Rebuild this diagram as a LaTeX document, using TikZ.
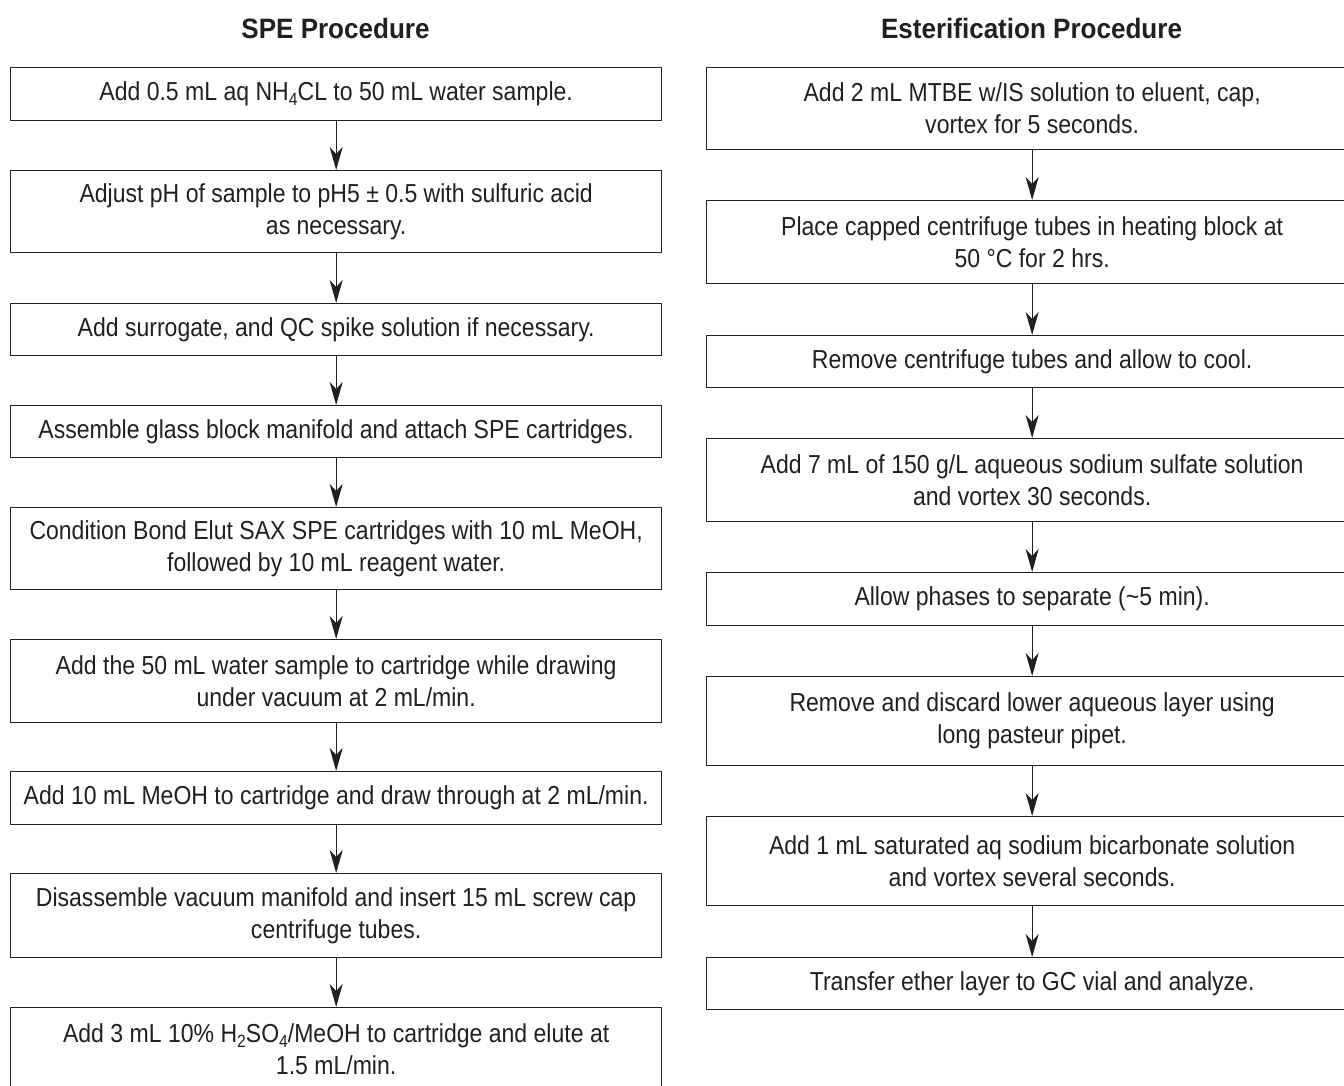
\documentclass[tikz,border=0pt]{standalone}
\usepackage{fontspec}
\setmainfont{Liberation Sans}
\newfontfamily\bodyfont{Liberation Sans}[FakeStretch=0.886]
\newfontfamily\headfont{Liberation Sans}[FakeStretch=0.93]
\usetikzlibrary{arrows.meta}
\definecolor{ink}{HTML}{231F20}
\newcommand\subsc[1]{\raisebox{-0.35ex}{\scalebox{0.68}{#1}}}
\begin{document}
\begin{tikzpicture}[x=1pt,y=-1pt,
  stepbox/.style={draw=ink, line width=1.3pt, minimum width=651pt, inner sep=0pt,
    anchor=north west, align=center, text=ink,
    font=\bodyfont\fontsize{26}{32}\selectfont},
  headtxt/.style={anchor=base, text=ink, inner sep=0pt,
    font=\headfont\bfseries\fontsize{28}{30}\selectfont},
  flow/.style={draw=ink, line width=1.3pt,
    -{Stealth[length=23pt,width=13pt,inset=7pt]}}]
\useasboundingbox (0,0) rectangle (1344,1085);
\clip (0,0) rectangle (1344,1085);
\fill[white] (0,0) rectangle (1344,1085);

% titles
\node[headtxt] (tl) at (335.5,38) {SPE Procedure};
\node[headtxt] (tr) at (1031.5,38) {Esterification Procedure};

% left column
\node[stepbox, minimum height=53pt] (L1) at (10,67) {Add 0.5 mL aq NH\subsc{4}CL to 50 mL water sample.};
\node[stepbox, minimum height=82pt] (L2) at (10,170) {Adjust pH of sample to pH5 ± 0.5 with sulfuric acid\\as necessary.};
\node[stepbox, minimum height=52pt] (L3) at (10,303) {Add surrogate, and QC spike solution if necessary.};
\node[stepbox, minimum height=52pt] (L4) at (10,405) {Assemble glass block manifold and attach SPE cartridges.};
\node[stepbox, minimum height=82pt] (L5) at (10,507) {Condition Bond Elut SAX SPE cartridges with 10 mL MeOH,\\followed by 10 mL reagent water.};
\node[stepbox, minimum height=83pt] (L6) at (10,639) {Add the 50 mL water sample to cartridge while drawing\\under vacuum at 2 mL/min.};
\node[stepbox, minimum height=53pt] (L7) at (10,771) {Add 10 mL MeOH to cartridge and draw through at 2 mL/min.};
\node[stepbox, minimum height=84pt] (L8) at (10,873) {Disassemble vacuum manifold and insert 15 mL screw cap\\centrifuge tubes.};
\node[stepbox, minimum height=84pt] (L9) at (10,1007) {Add 3 mL 10\% H\subsc{2}SO\subsc{4}/MeOH to cartridge and elute at\\1.5 mL/min.};

% right column
\node[stepbox, minimum height=82pt] (R1) at (706,67) {Add 2 mL MTBE w/IS solution to eluent, cap,\\vortex for 5 seconds.};
\node[stepbox, minimum height=83pt] (R2) at (706,200) {Place capped centrifuge tubes in heating block at\\50 °C for 2 hrs.};
\node[stepbox, minimum height=52pt] (R3) at (706,335) {Remove centrifuge tubes and allow to cool.};
\node[stepbox, minimum height=83pt] (R4) at (706,438) {Add 7 mL of 150 g/L aqueous sodium sulfate solution\\and vortex 30 seconds.};
\node[stepbox, minimum height=53pt] (R5) at (706,572) {Allow phases to separate (\textasciitilde5 min).};
\node[stepbox, minimum height=89pt] (R6) at (706,676) {Remove and discard lower aqueous layer using\\long pasteur pipet.};
\node[stepbox, minimum height=89pt] (R7) at (706,816) {Add 1 mL saturated aq sodium bicarbonate solution\\and vortex several seconds.};
\node[stepbox, minimum height=52pt] (R8) at (706,957) {Transfer ether layer to GC vial and analyze.};

% connectors
\foreach \a/\b in {L1/L2,L2/L3,L3/L4,L4/L5,L5/L6,L6/L7,L7/L8,L8/L9,
                   R1/R2,R2/R3,R3/R4,R4/R5,R5/R6,R6/R7,R7/R8}
  \draw[flow] (\a.south) -- (\b.north);
\end{tikzpicture}
\end{document}
